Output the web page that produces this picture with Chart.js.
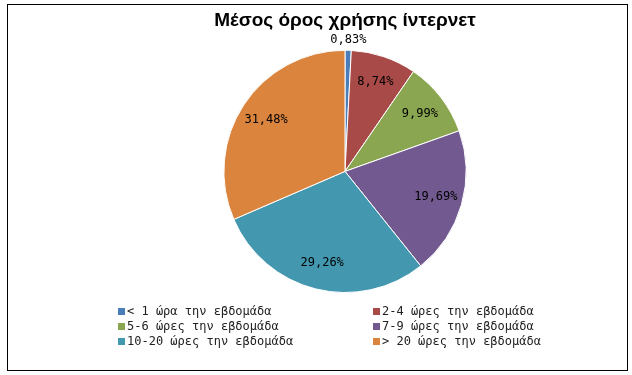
<!DOCTYPE html>
<html>
<head>
<meta charset="utf-8">
<script src="https://cdn.jsdelivr.net/npm/chart.js@4"></script>
<style>
body { margin: 0; background: #fff; }
#wrap { position: relative; width: 632px; height: 375px; }
#frame { position: absolute; left: 7px; top: 4px; width: 619px; height: 365px; border: 1px solid #000; pointer-events: none; }
</style>
</head>
<body>
<div id="wrap">
  <canvas id="usageChart" width="632" height="375"></canvas>
  <div id="frame"></div>
</div>
<script>
const chartTitle = 'Μέσος όρος χρήσης ίντερνετ';
const categories = [
    '< 1 ώρα την εβδομάδα',
    '2-4 ώρες την εβδομάδα',
    '5-6 ώρες την εβδομάδα',
    '7-9 ώρες την εβδομάδα',
    '10-20 ώρες την εβδομάδα',
    '> 20 ώρες την εβδομάδα'
];
const shares = [0.83, 8.74, 9.99, 19.69, 29.26, 31.48]; // percent
const sliceColors = ['#4a7ebb', '#a84a48', '#8aa650', '#725a90', '#4398b0', '#db843d'];

const monoFont = '12px "DejaVu Sans Mono", "Liberation Mono", monospace';

// percentage labels inside the slices (small slice goes outside)
const sliceLabels = {
    id: 'sliceLabels',
    afterDatasetsDraw(chart) {
        const ctx = chart.ctx;
        const meta = chart.getDatasetMeta(0);
        ctx.save();
        ctx.font = monoFont;
        ctx.fillStyle = '#000';
        ctx.textAlign = 'center';
        ctx.textBaseline = 'middle';
        meta.data.forEach((arc, i) => {
            const p = arc.getProps(['x', 'y', 'startAngle', 'endAngle', 'outerRadius'], true);
            const mid = (p.startAngle + p.endAngle) / 2;
            const v = shares[i];
            const r = v < 2 ? p.outerRadius + 10 : p.outerRadius * 0.78;
            const txt = v.toFixed(2).replace('.', ',') + '%';
            ctx.fillText(txt, p.x + Math.cos(mid) * r, p.y + Math.sin(mid) * r);
        });
        ctx.restore();
    }
};

// two-column legend under the pie
const twoColLegend = {
    id: 'twoColLegend',
    afterDraw(chart) {
        const ctx = chart.ctx;
        const colX = [118, 373];
        ctx.save();
        ctx.font = monoFont;
        ctx.textBaseline = 'middle';
        ctx.textAlign = 'left';
        chart.data.labels.forEach((lab, i) => {
            const x = colX[i % 2];
            const y = 311 + Math.floor(i / 2) * 15;
            ctx.fillStyle = sliceColors[i];
            ctx.fillRect(x, y - 3, 7, 7);
            ctx.fillStyle = '#222';
            ctx.fillText(lab, x + 9, y + 1);
        });
        ctx.restore();
    }
};

const ctx = document.getElementById('usageChart').getContext('2d');
const usageChart = new Chart(ctx, {
    type: 'pie',
    data: {
        labels: categories,
        datasets: [{
            data: shares,
            backgroundColor: sliceColors,
            borderColor: '#ffffff',
            borderWidth: 1
        }]
    },
    options: {
        responsive: false,
        animation: false,
        layout: { padding: { top: 0, bottom: 82, left: 58, right: 0 } },
        plugins: {
            legend: { display: false },
            tooltip: { enabled: false },
            title: {
                display: true,
                text: chartTitle,
                color: '#000',
                font: { family: '"Liberation Sans", Arial, sans-serif', size: 19, weight: 'bold' },
                padding: { top: 9, bottom: 18 }
            }
        }
    },
    plugins: [sliceLabels, twoColLegend]
});
</script>
</body>
</html>
